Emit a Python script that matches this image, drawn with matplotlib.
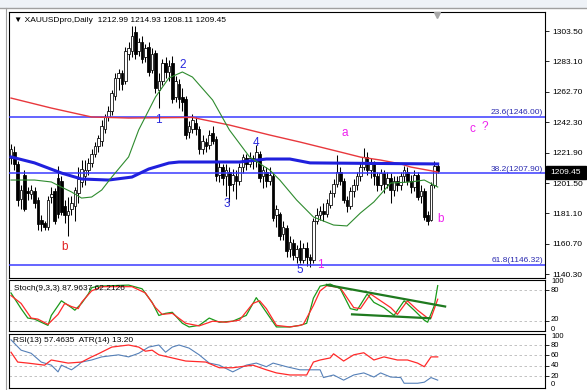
import numpy as np
import matplotlib
matplotlib.use("Agg")
import matplotlib.pyplot as plt
from matplotlib.patches import Rectangle

plt.rcParams['font.family'] = ['Liberation Sans', 'DejaVu Sans']

# ---------------- data ----------------
opens = [1218, 1222, 1214, 1191, 1207, 1196, 1194, 1196, 1190, 1177,
         1175, 1172, 1192, 1196, 1205, 1203, 1186, 1180, 1184, 1186,
         1195, 1202, 1206, 1210, 1215, 1221, 1226, 1230, 1238, 1246,
         1250, 1260, 1272, 1275, 1270, 1288, 1290, 1303, 1290, 1296,
         1286, 1293, 1277, 1289, 1264, 1270, 1282, 1276, 1282, 1259,
         1268, 1259, 1258, 1236, 1238, 1242, 1238, 1224, 1229, 1227,
         1235, 1231, 1207, 1212, 1206, 1209, 1201, 1206, 1203, 1212,
         1218, 1214, 1218, 1216, 1221, 1206, 1209, 1203, 1206, 1180,
         1181, 1167, 1171, 1157, 1161, 1152, 1158, 1150, 1158, 1152,
         1150, 1176, 1180, 1183, 1181, 1187, 1195, 1201, 1209, 1203,
         1190, 1186, 1196, 1200, 1206, 1212, 1219, 1210, 1214, 1206,
         1200, 1208, 1201, 1205, 1197, 1203, 1200, 1206, 1209, 1203,
         1199, 1207, 1193, 1196, 1180, 1177, 1200, 1212.99]
highs = [1228, 1226, 1216, 1200, 1210, 1199, 1200, 1199, 1192, 1180,
         1176, 1193, 1199, 1198, 1213, 1206, 1190, 1192, 1193, 1199,
         1212, 1217, 1217, 1218, 1224, 1229, 1234, 1244, 1248, 1253,
         1264, 1275, 1278, 1277, 1293, 1296, 1307, 1307, 1299, 1300,
         1295, 1296, 1292, 1291, 1275, 1285, 1286, 1284, 1287, 1273,
         1271, 1265, 1260, 1243, 1248, 1246, 1240, 1234, 1232, 1237,
         1240, 1233, 1216, 1214, 1214, 1212, 1211, 1210, 1215, 1221,
         1221, 1222, 1220, 1227, 1223, 1213, 1212, 1212, 1208, 1187,
         1182, 1176, 1173, 1166, 1164, 1160, 1163, 1161, 1162, 1154,
         1178, 1185, 1186, 1188, 1191, 1197, 1204, 1220, 1212, 1205,
         1193, 1199, 1204, 1209, 1215, 1225, 1222, 1218, 1216, 1209,
         1211, 1210, 1209, 1208, 1206, 1206, 1209, 1213, 1212, 1207,
         1210, 1209, 1200, 1198, 1183, 1202, 1216, 1214.93]
lows = [1214, 1210, 1186, 1184, 1183, 1190, 1191, 1185, 1170, 1169,
        1170, 1170, 1188, 1174, 1178, 1180, 1175, 1166, 1180, 1176,
        1188, 1199, 1200, 1207, 1212, 1219, 1222, 1226, 1235, 1243,
        1247, 1257, 1264, 1264, 1268, 1284, 1286, 1285, 1287, 1282,
        1283, 1273, 1275, 1262, 1252, 1267, 1272, 1270, 1255, 1256,
        1252, 1250, 1231, 1232, 1235, 1234, 1221, 1221, 1222, 1224,
        1228, 1203, 1202, 1200, 1193, 1189, 1196, 1191, 1200, 1208,
        1210, 1212, 1211, 1212, 1202, 1198, 1199, 1200, 1176, 1172,
        1163, 1163, 1152, 1152, 1150, 1148, 1148, 1148, 1146, 1145,
        1148, 1174, 1177, 1176, 1179, 1185, 1192, 1199, 1200, 1188,
        1182, 1184, 1192, 1197, 1203, 1210, 1207, 1205, 1200, 1196,
        1197, 1195, 1198, 1188, 1193, 1196, 1197, 1202, 1200, 1195,
        1196, 1190, 1188, 1177, 1173, 1176, 1198, 1208.11]
closes = [1224, 1214, 1190, 1197, 1184, 1195, 1197, 1188, 1174, 1174,
          1172, 1190, 1194, 1176, 1181, 1182, 1180, 1183, 1188, 1197,
          1204, 1211, 1210, 1215, 1221, 1226, 1232, 1240, 1246, 1250,
          1262, 1272, 1275, 1268, 1290, 1292, 1300, 1288, 1296, 1285,
          1292, 1276, 1288, 1265, 1270, 1282, 1276, 1280, 1258, 1270,
          1258, 1256, 1234, 1240, 1244, 1238, 1224, 1230, 1226, 1234,
          1230, 1206, 1212, 1205, 1210, 1200, 1207, 1203, 1212, 1219,
          1214, 1218, 1216, 1222, 1205, 1210, 1203, 1207, 1178, 1184,
          1166, 1172, 1156, 1162, 1153, 1157, 1150, 1158, 1152, 1150,
          1176, 1180, 1183, 1181, 1188, 1195, 1201, 1209, 1203, 1190,
          1186, 1196, 1200, 1206, 1212, 1219, 1210, 1214, 1206, 1200,
          1208, 1201, 1205, 1197, 1203, 1200, 1206, 1210, 1203, 1199,
          1207, 1192, 1196, 1179, 1176, 1200, 1213, 1209.45]

red_bar = [0, 12, 24, 35, 54, 65, 77, 86, 98, 104, 110, 116, 119, 127]
red_ma = [1258.5, 1251.8, 1245.8, 1245.1, 1245.5, 1240.4, 1233.7, 1229.0,
          1222.3, 1218.9, 1216.9, 1214.3, 1212.2, 1208.9]
blue_bar = [0, 7, 15, 21, 29, 36, 41, 47, 50, 61, 68, 76, 83, 89, 110, 127]
blue_ma = [1219.0, 1215.0, 1208.2, 1204.2, 1203.5, 1205.5, 1210.9, 1214.9,
           1215.6, 1215.6, 1215.6, 1217.6, 1217.6, 1215.0, 1214.6, 1214.3]
green_bar = [0, 7, 12, 15, 18, 21, 24, 27, 30, 35, 38, 43, 47, 51, 54, 60, 65,
             71, 77, 80, 85, 90, 96, 100, 104, 108, 113, 119, 123, 127]
green_ma = [1203.5, 1203.5, 1202.2, 1198.8, 1195.5, 1191.4, 1192.1, 1196.8,
            1205.5, 1219.0, 1237.1, 1259.2, 1272.0, 1276.0, 1272.6, 1257.2,
            1237.1, 1219.0, 1210.2, 1203.5, 1190.1, 1178.7, 1173.3, 1172.7,
            1181.4, 1188.8, 1201.5, 1202.2, 1203.5, 1198.8]

fib_levels = [1246.00, 1207.90, 1146.32]
fib_labels = ["23.6(1246.00)", "38.2(1207.90)", "61.8(1146.32)"]
price_ticks = [1303.50, 1283.10, 1262.70, 1242.30, 1221.90, 1201.50,
               1181.10, 1160.70, 1140.30]

stoch_k_bar = [0, 3, 5, 7, 11, 12, 15, 18, 19, 21, 23, 24, 26, 35, 39, 42, 44,
               46, 48, 51, 53, 56, 59, 62, 66, 70, 73, 76, 79, 83, 86, 88, 90,
               92, 95, 98, 101, 103, 106, 108, 111, 114, 117, 120, 123, 124,
               126, 127]
stoch_k = [74, 44, 26, 24, 12, 31, 59, 46, 41, 54, 72, 84, 87, 89, 82, 56, 31,
           35, 37, 16, 9, 12, 26, 18, 20, 31, 65, 37, 9, 9, 12, 16, 64, 87, 91,
           82, 44, 41, 72, 56, 46, 31, 59, 41, 22, 18, 50, 88]
stoch_d_bar = [0, 3, 6, 8, 11, 14, 16, 18, 20, 21, 24, 27, 36, 40, 43, 45, 48,
               52, 56, 60, 64, 68, 72, 74, 76, 79, 83, 86, 87, 90, 92, 94, 98,
               102, 104, 107, 110, 113, 115, 118, 121, 124, 125, 127]
stoch_d = [69, 54, 26, 24, 14, 33, 54, 48, 44, 56, 78, 86, 86, 74, 46, 33, 35,
           16, 11, 20, 18, 22, 54, 59, 44, 12, 9, 12, 14, 50, 78, 88, 84, 46,
           44, 72, 59, 46, 33, 59, 41, 26, 26, 62]
trend_up_bar = [94.0, 129.2]
trend_up_val = [89.4, 48.1]
trend_lo_bar = [101.5, 124.7]
trend_lo_val = [33.1, 25.6]

rsi_bar = [0, 2, 5, 10, 12, 17, 21, 24, 26, 30, 35, 38, 40, 42, 44, 48, 52, 58,
           62, 66, 72, 76, 79, 83, 88, 90, 92, 95, 96, 99, 102, 105, 108, 111,
           115, 118, 121, 123, 125, 127]
rsi = [66, 47, 45, 41, 51, 45, 47, 57, 63, 76, 80, 76, 68, 70, 61, 55, 49, 47,
       36, 36, 41, 32, 26, 22, 22, 47, 51, 55, 63, 49, 61, 65, 51, 57, 51, 51,
       45, 38, 57, 57]
atr_bar = [0, 3, 6, 9, 12, 14, 15, 18, 20, 21, 24, 27, 32, 35, 38, 41, 44, 46,
           48, 50, 53, 56, 59, 62, 66, 70, 73, 76, 78, 82, 86, 89, 92, 93, 96,
           99, 102, 105, 108, 110, 113, 116, 117, 121, 123, 125, 127]
atr = [90, 70, 64, 47, 41, 28, 41, 32, 41, 47, 51, 57, 61, 57, 64, 76, 80, 66,
       76, 80, 74, 61, 45, 41, 28, 41, 45, 38, 45, 38, 32, 32, 32, 17, 22, 12,
       22, 26, 18, 26, 18, 17, 6, 6, 8, 17, 12]

# ---------------- layout helpers ----------------
W, H = 587, 390
fig = plt.figure(figsize=(W / 100, H / 100), dpi=100)
fig.patch.set_facecolor('white')


def rect(x0, y0, x1, y1):
    return [x0 / W, 1 - y1 / H, (x1 - x0) / W, (y1 - y0) / H]


X0, DX = 11.0, 3.36


def bx(px):
    return (px - X0) / DX


def py(pyv):
    return 1303.5 - (pyv - 31) * 0.671


def fx(px):
    return px / W


def fy(pyv):
    return 1 - pyv / H


XL = (bx(9), bx(545))

# window chrome
fig.patches.append(Rectangle((0, fy(7)), 1, 7 / H, transform=fig.transFigure,
                             color='#eef2f7', zorder=0))
fig.add_artist(plt.Line2D([0, 1], [fy(7.5), fy(7.5)], color='#a0a0a0', lw=1.0))
fig.add_artist(plt.Line2D([fx(5.5), fx(5.5)], [0, fy(7.5)], color='#a0a0a0', lw=0.8))

# ---------------- main chart ----------------
ax = fig.add_axes(rect(9, 12, 545, 278))
ax.set_xlim(*XL)
ax.set_ylim(py(278), py(12))
O = np.array(opens); Hh = np.array(highs); Lw = np.array(lows); C = np.array(closes)
xs = np.arange(len(O))
bull = C >= O
ax.vlines(xs, Lw, Hh, color='black', lw=0.75, zorder=2)
body_h = np.maximum(np.abs(C - O), 0.5)
ax.bar(xs, body_h, bottom=np.minimum(O, C), width=0.78,
       color=np.where(bull, 'white', 'black'), edgecolor='black', lw=0.55, zorder=3)

for lv, lb in zip(fib_levels, fib_labels):
    ax.axhline(lv, color='#3a3aff', lw=1.1, zorder=4)
    ax.text(bx(543), lv + 0.6, lb, color='#2a2ab0', fontsize=6, ha='right',
            va='bottom', zorder=6)

ax.plot(red_bar, red_ma, color='#e8383d', lw=1.0, zorder=5)
ax.plot(blue_bar, blue_ma, color='#2020dd', lw=2.2, zorder=5)
ax.plot(green_bar, green_ma, color='#2e8b2e', lw=0.8, zorder=5)

ax.text(bx(14), py(20), '\u25bc XAUUSDpro,Daily  1212.99 1214.93 1208.11 1209.45',
        fontsize=6, va='center', ha='left', color='black', zorder=7)
ax.plot([bx(437)], [py(14.5)], marker='v', color='#a8a8a8', ms=4, clip_on=False, zorder=7)

wave_blue = '#2828dd'
mag = '#ee22ee'
labels = [("b", 65, 247, '#e02020'), ("1", 158, 120, wave_blue), ("2", 183, 65, wave_blue),
          ("3", 227, 204, wave_blue), ("4", 256, 143, wave_blue), ("5", 300, 270, wave_blue),
          ("1", 320, 265, mag), ("a", 345, 133, mag), ("b", 441, 219, mag),
          ("c", 472, 129, mag), ("?", 485, 127, mag)]
for t, px_, py_, col in labels:
    ax.text(bx(px_), py(py_), t, color=col, fontsize=8.5, ha='center', va='center', zorder=7)

ax.yaxis.tick_right()
ax.set_yticks(price_ticks)
ax.set_yticklabels([f"{v:.2f}" for v in price_ticks])
ax.tick_params(axis='y', length=3, pad=2, labelsize=6, width=0.6)
ax.set_xticks([])
for s in ax.spines.values():
    s.set_linewidth(0.8)

# current price box
fig.patches.append(Rectangle((fx(546), fy(179)), 40 / W, 13 / H, transform=fig.transFigure,
                             color='black', zorder=10))
fig.text(fx(566), fy(172.5), '1209.45', color='white', fontsize=6, ha='center',
         va='center', zorder=11)

# ---------------- stochastic ----------------
ax2 = fig.add_axes(rect(9, 280, 545, 331))
ax2.set_xlim(*XL)
ax2.set_ylim(1.25, 98.75)
for lv in (80, 20):
    ax2.axhline(lv, color='#b8b8b8', lw=0.6, ls=(0, (3, 3)), zorder=1)
ax2.plot(stoch_k_bar, stoch_k, color='#1a9a1a', lw=0.9, zorder=3)
ax2.plot(stoch_d_bar, stoch_d, color='#ff2a2a', lw=0.9, zorder=3)
ax2.plot(trend_up_bar, trend_up_val, color='#1f7a1f', lw=1.6, zorder=4, clip_on=False)
ax2.plot(trend_lo_bar, trend_lo_val, color='#1f7a1f', lw=1.6, zorder=4)
ax2.text(bx(14), 83, 'Stoch(9,3,3) 87.9637 62.2126', fontsize=6, va='center', zorder=5)
ax2.set_xticks([])
ax2.set_yticks([80, 20])
ax2.set_yticklabels([])
ax2.tick_params(axis='y', left=False, right=True, length=3, width=0.6)
tr2 = ax2.get_yaxis_transform()
for s, v in (("100", 96), ("80", 78), ("20", 23), ("0", 5)):
    ax2.text(1.0 + 6 / 536, v, s, transform=tr2, fontsize=5.5, va='center', ha='left',
             clip_on=False)
for s in ax2.spines.values():
    s.set_linewidth(0.8)

# ---------------- RSI / ATR ----------------
ax3 = fig.add_axes(rect(9, 334, 545, 388))
ax3.set_xlim(*XL)
ax3.set_ylim(-3.2, 101.3)
for lv in (80, 60, 40, 20):
    ax3.axhline(lv, color='#b8b8b8', lw=0.6, ls=(0, (3, 3)), zorder=1)
ax3.plot(atr_bar, atr, color='#5580b8', lw=0.8, zorder=3)
ax3.plot(rsi_bar, rsi, color='#ff2a2a', lw=0.9, zorder=3)
ax3.text(bx(13), 88, 'RSI(13) 57.4635  ATR(14) 13.20', fontsize=6, va='center', zorder=5)
ax3.set_xticks([])
ax3.set_yticks([80, 60, 40, 20])
ax3.set_yticklabels([])
ax3.tick_params(axis='y', left=False, right=True, length=3, width=0.6)
tr3 = ax3.get_yaxis_transform()
for s, v in (("100", 97), ("80", 80), ("60", 60), ("40", 40), ("20", 20), ("0", 3)):
    ax3.text(1.0 + 6 / 536, v, s, transform=tr3, fontsize=5.5, va='center', ha='left',
             clip_on=False)
for s in ax3.spines.values():
    s.set_linewidth(0.8)

fig.savefig('out.png', dpi=100)
